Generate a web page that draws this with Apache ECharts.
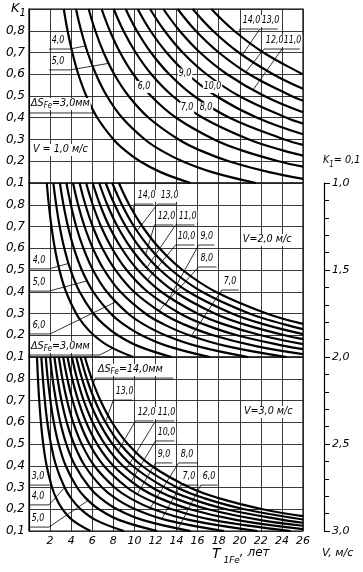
<!DOCTYPE html>
<html><head><meta charset="utf-8">
<script src="https://cdn.jsdelivr.net/npm/echarts/dist/echarts.min.js"></script>
<style>html,body{margin:0;padding:0;background:#fff}#c{width:363px;height:572px}</style>
</head><body><div id="c"></div>
<script>
const FONT = "'DejaVu Sans',sans-serif";
const COND = "'DejaVu Sans Condensed','DejaVu Sans',sans-serif";

// ΔS_Fe values (mm) of the curves, same order in every panel
const dS = [3, 4, 5, 6, 7, 8, 9, 10, 11, 12, 13, 14];
// K1 levels at which T (years) is read for each curve
const k1Levels = [0.9, 0.8, 0.7, 0.6, 0.5, 0.4, 0.3, 0.25, 0.2, 0.15, 0.1];

// Panel V = 1.0 m/s : T values per curve at k1Levels (null = beyond right edge)
const tV1 = [
  [3.30, 3.66, 4.11, 4.68, 5.44, 6.48, 8.02, 9.11, 10.53, 12.48, 15.32],
  [4.46, 4.95, 5.56, 6.35, 7.39, 8.84, 11.00, 12.53, 14.56, 17.37, 21.53],
  [5.66, 6.29, 7.08, 8.09, 9.45, 11.35, 14.20, 16.24, 18.96, 22.78, null],
  [6.89, 7.67, 8.64, 9.90, 11.58, 13.96, 17.57, 20.18, 23.69, null, null],
  [8.04, 8.96, 10.12, 11.61, 13.63, 16.49, 20.88, 24.08, null, null, null],
  [9.17, 10.23, 11.57, 13.31, 15.66, 19.03, 24.25, null, null, null, null],
  [10.31, 11.52, 13.05, 15.04, 17.75, 21.65, null, null, null, null, null],
  [11.49, 12.86, 14.58, 16.85, 19.94, 24.44, null, null, null, null, null],
  [12.75, 14.29, 16.23, 18.80, 22.33, null, null, null, null, null, null],
  [14.10, 15.82, 18.01, 20.90, 24.90, null, null, null, null, null, null],
  [15.53, 17.45, 19.90, 23.16, null, null, null, null, null, null, null],
  [17.30, 19.46, 22.24, 25.95, null, null, null, null, null, null, null]
];
// K1 where each curve meets the right edge (T = 26)
const edgeV1 = [null, null, 0.119, 0.175, 0.226, 0.275, 0.324, 0.373, 0.425, 0.478, 0.533, 0.599];

// Panel V = 2.0 m/s
const tV2 = [
  [1.69, 1.88, 2.13, 2.45, 2.89, 3.51, 4.47, 5.18, 6.15, 7.58, 9.88],
  [2.31, 2.58, 2.91, 3.35, 3.95, 4.80, 6.11, 7.08, 8.42, 10.37, 13.52],
  [2.93, 3.27, 3.70, 4.26, 5.01, 6.09, 7.75, 8.99, 10.68, 13.16, 17.15],
  [3.55, 3.97, 4.48, 5.16, 6.07, 7.38, 9.40, 10.89, 12.94, 15.95, 20.79],
  [4.18, 4.66, 5.27, 6.06, 7.13, 8.67, 11.04, 12.80, 15.21, 18.74, 24.43],
  [4.80, 5.35, 6.05, 6.96, 8.20, 9.96, 12.69, 14.70, 17.47, 21.53, null],
  [5.42, 6.05, 6.84, 7.87, 9.26, 11.25, 14.33, 16.61, 19.74, 24.32, null],
  [6.04, 6.74, 7.62, 8.77, 10.32, 12.54, 15.97, 18.51, 22.00, null, null],
  [6.66, 7.43, 8.40, 9.67, 11.38, 13.83, 17.62, 20.42, 24.27, null, null],
  [7.28, 8.13, 9.19, 10.57, 12.44, 15.12, 19.26, 22.32, null, null, null],
  [7.90, 8.82, 9.97, 11.48, 13.51, 16.41, 20.91, 24.23, null, null, null],
  [8.53, 9.51, 10.76, 12.38, 14.57, 17.70, 22.55, null, null, null, null]
];
const edgeV2 = [null, null, null, null, null, 0.113, 0.136, 0.159, 0.182, 0.205, 0.228, 0.252];

// Panel V = 3.0 m/s
const tV3 = [
  [0.76, 0.85, 0.97, 1.13, 1.35, 1.67, 2.19, 2.59, 3.18, 4.12, 5.83],
  [1.17, 1.32, 1.50, 1.74, 2.08, 2.57, 3.38, 4.00, 4.91, 6.35, 9.00],
  [1.59, 1.78, 2.03, 2.35, 2.81, 3.48, 4.56, 5.41, 6.64, 8.59, 12.17],
  [2.00, 2.24, 2.56, 2.97, 3.54, 4.38, 5.75, 6.81, 8.36, 10.82, 15.33],
  [2.41, 2.71, 3.08, 3.58, 4.27, 5.29, 6.94, 8.22, 10.09, 13.06, 18.50],
  [2.83, 3.17, 3.61, 4.19, 5.00, 6.19, 8.13, 9.63, 11.82, 15.29, 21.67],
  [3.24, 3.64, 4.14, 4.81, 5.73, 7.10, 9.31, 11.04, 13.55, 17.53, 24.83],
  [3.65, 4.10, 4.67, 5.42, 6.46, 8.00, 10.50, 12.44, 15.27, 19.76, null],
  [4.07, 4.56, 5.19, 6.03, 7.19, 8.90, 11.69, 13.85, 17.00, 22.00, null],
  [4.48, 5.03, 5.72, 6.65, 7.92, 9.81, 12.88, 15.26, 18.73, 24.24, null],
  [4.89, 5.49, 6.25, 7.26, 8.65, 10.71, 14.06, 16.67, 20.45, null, null],
  [5.30, 5.95, 6.78, 7.87, 9.38, 11.62, 15.25, 18.08, 22.18, null, null]
];
const edgeV3 = [null, null, null, null, null, null, null, 0.109, 0.124, 0.138, 0.153, 0.168];

// Axis ranges / ticks
const tMin = 0, tMax = 26, tStep = 2;
const kMin = 0.1, kMax = 0.9, kStep = 0.1;
const vMin = 1.0, vMax = 3.0, vStep = 0.5;

// Curve labels: [T, K1 (text bottom-left), text]; "a|b|c" = a + subscript b + c
const lblV1 = [
  [2.09, 0.725, '4,0'], [2.09, 0.629, '5,0'], [0.10, 0.436, 'ΔS|Fe|=3,0мм'],
  [0.28, 0.224, 'V = 1,0 м/с'], [10.25, 0.514, '6,0'], [14.14, 0.574, '9,0'],
  [16.5, 0.514, '10,0'], [14.33, 0.417, '7,0'], [16.13, 0.417, '8,0'],
  [20.2, 0.817, '14,0'], [22.0, 0.817, '13,0'], [22.4, 0.725, '12,0'], [24.1, 0.725, '11,0']
];
const leadV1 = [
  [[1.9, 0.716], [3.89, 0.716], [5.36, 0.73]],
  [[1.9, 0.62], [3.89, 0.62], [7.55, 0.65]],
  [[0, 0.422], [6.22, 0.422]],
  [[21.8, 0.808], [20.0, 0.808], [20.06, 0.776]],
  [[23.6, 0.808], [21.9, 0.808], [20.24, 0.688]],
  [[24.0, 0.716], [22.3, 0.716], [20.57, 0.61]],
  [[25.7, 0.716], [24.0, 0.716], [21.25, 0.527]]
];
const lblV2 = [
  [10.25, 0.813, '14,0'], [12.43, 0.813, '13,0'], [12.14, 0.716, '12,0'], [14.14, 0.716, '11,0'],
  [14.04, 0.624, '10,0'], [16.2, 0.624, '9,0'], [16.2, 0.523, '8,0'], [18.4, 0.417, '7,0'],
  [20.2, 0.61, 'V=2,0 м/с'], [0.28, 0.514, '4,0'], [0.28, 0.413, '5,0'], [0.28, 0.215, '6,0'],
  [0.1, 0.118, 'ΔS|Fe|=3,0мм']
];
const leadV2 = [
  [[11.8, 0.803], [10.0, 0.803], [9.89, 0.767]],
  [[14.0, 0.803], [12.2, 0.803], [10.24, 0.68]],
  [[13.7, 0.707], [11.9, 0.707], [11.07, 0.57]],
  [[15.7, 0.707], [13.9, 0.707], [11.18, 0.51]],
  [[15.7, 0.615], [13.9, 0.615], [11.23, 0.454]],
  [[17.6, 0.615], [16.1, 0.615], [12.95, 0.339]],
  [[17.8, 0.514], [16.1, 0.514], [12.3, 0.311]],
  [[19.9, 0.408], [18.3, 0.408], [15.4, 0.197]],
  [[0.1, 0.505], [1.9, 0.505], [3.75, 0.53]],
  [[0.1, 0.403], [1.9, 0.403], [5.5, 0.45]],
  [[0.1, 0.206], [2.0, 0.206], [8.2, 0.353]],
  [[0, 0.109], [6.7, 0.109], [7.95, 0.14]]
];
const lblV3 = [
  [6.45, 0.813, 'ΔS|Fe|=14,0мм'], [8.16, 0.711, '13,0'], [10.25, 0.615, '12,0'], [12.14, 0.615, '11,0'],
  [12.14, 0.523, '10,0'], [12.14, 0.422, '9,0'], [14.33, 0.422, '8,0'], [14.5, 0.321, '7,0'],
  [16.4, 0.321, '6,0'], [20.3, 0.62, 'V=3,0 м/с'], [0.19, 0.321, '3,0'], [0.19, 0.229, '4,0'],
  [0.19, 0.128, '5,0']
];
const leadV3 = [
  [[13.7, 0.803], [6.3, 0.803], [6.1, 0.78]],
  [[9.8, 0.702], [8.0, 0.702], [7.26, 0.60]],
  [[11.8, 0.606], [10.1, 0.606], [8.44, 0.468]],
  [[13.8, 0.606], [12.0, 0.606], [9.23, 0.385]],
  [[13.8, 0.514], [12.0, 0.514], [9.68, 0.327]],
  [[13.6, 0.413], [12.0, 0.413], [10.28, 0.27]],
  [[16.0, 0.413], [14.2, 0.413], [11.5, 0.206]],
  [[16.1, 0.311], [14.4, 0.311], [12.6, 0.156]],
  [[17.9, 0.311], [16.3, 0.311], [14.15, 0.11]],
  [[0.1, 0.311], [2.1, 0.311]],
  [[0.1, 0.22], [1.9, 0.22], [3.38, 0.30]],
  [[0.1, 0.118], [1.9, 0.118], [5.6, 0.24]]
];

// ---------- build ----------
const panels = [
  { t: tV1, e: edgeV1, l: lblV1, d: leadV1, top: 9 },
  { t: tV2, e: edgeV2, l: lblV2, d: leadV2, top: 183 },
  { t: tV3, e: edgeV3, l: lblV3, d: leadV3, top: 357 }
];
const fmtK = v => (Math.abs(v - kMax) < 1e-6 ? '' : v.toFixed(1).replace('.', ','));
const txt = s => {
  const p = s.split('|');
  return p.length === 3 ? `{a|${p[0]}}{s|${p[1]}}{a|${p[2]}}` : `{a|${s}}`;
};
const rich = {
  a: { fontFamily: COND, fontStyle: 'italic', fontSize: 11, fill: '#000', lineHeight: 12, verticalAlign: 'top' },
  s: { fontFamily: COND, fontStyle: 'italic', fontSize: 8, fill: '#000', lineHeight: 12, verticalAlign: 'bottom' }
};

const grid = [], xAxis = [], yAxis = [], series = [];
panels.forEach((p, i) => {
  grid.push({ left: 29, top: p.top, width: 274, height: 174, show: true, borderColor: '#000', borderWidth: 1.2 });
  xAxis.push({
    type: 'value', gridIndex: i, min: tMin, max: tMax, interval: tStep,
    axisLine: { show: false }, axisTick: { show: false },
    splitLine: { show: true, lineStyle: { color: '#222', width: 0.9 } },
    axisLabel: i === 2 ? {
      show: true, margin: 5, color: '#000', fontFamily: FONT, fontStyle: 'italic', fontSize: 11,
      formatter: v => (v === 0 ? '' : String(v))
    } : { show: false }
  });
  yAxis.push({
    type: 'value', gridIndex: i, min: kMin, max: kMax, interval: kStep,
    axisLine: { show: true, lineStyle: { color: '#000', width: 1.2 } }, axisTick: { show: false },
    splitLine: { show: true, lineStyle: { color: '#222', width: 0.9 } },
    axisLabel: { show: true, margin: 4, color: '#000', fontFamily: FONT, fontStyle: 'italic', fontSize: 12, formatter: fmtK }
  });
  p.t.forEach((row, j) => {
    const pts = [];
    row.forEach((T, k) => { if (T !== null) pts.push([T, k1Levels[k]]); });
    if (p.e[j] !== null) pts.push([tMax, p.e[j]]);
    series.push({
      type: 'line', name: 'dS ' + dS[j], xAxisIndex: i, yAxisIndex: i, data: pts,
      showSymbol: false, smooth: 0.4, clip: true, silent: true, z: 3,
      lineStyle: { color: '#000', width: 2.2 }
    });
  });
  series.push({
    type: 'lines', coordinateSystem: 'cartesian2d', xAxisIndex: i, yAxisIndex: i, polyline: true,
    silent: true, z: 4, lineStyle: { color: '#000', width: 0.8, opacity: 1 },
    data: p.d.map(c => ({ coords: c }))
  });
  const labels = p.l;
  series.push({
    type: 'custom', xAxisIndex: i, yAxisIndex: i, silent: true, z: 10, clip: false,
    data: labels.map(r => [r[0], r[1]]),
    renderItem: (params, api) => {
      const pt = api.coord([api.value(0), api.value(1)]);
      const s = labels[params.dataIndex][2];
      const numeric = /^[0-9,]+$/.test(s);
      return {
        type: 'text', x: pt[0], y: pt[1], scaleX: numeric ? 0.8 : 0.97,
        style: { text: txt(s), rich, align: 'left', verticalAlign: 'bottom', backgroundColor: '#fff', padding: [0, 1, 0, 1] }
      };
    }
  });
});

// velocity scale on the right
grid.push({ left: 324, top: 183, width: 20, height: 348, show: false });
xAxis.push({ type: 'value', gridIndex: 3, show: false, min: 0, max: 1 });
yAxis.push({
  type: 'value', gridIndex: 3, min: vMin, max: vMax, interval: vStep, inverse: true, position: 'left',
  axisLine: { show: true, lineStyle: { color: '#000', width: 1.2 } },
  axisTick: { show: true, inside: true, length: 6, lineStyle: { color: '#000', width: 1 } },
  minorTick: { show: true, splitNumber: 5, length: 5, lineStyle: { color: '#000', width: 1 } },
  splitLine: { show: false },
  axisLabel: { show: true, inside: true, margin: 8, color: '#000', fontFamily: FONT, fontStyle: 'italic', fontSize: 11,
    formatter: v => v.toFixed(1).replace('.', ',') }
});
series.push({ type: 'line', xAxisIndex: 3, yAxisIndex: 3, data: [], silent: true });

const sub = (fs, lh) => ({
  a: { fontFamily: FONT, fontStyle: 'italic', fontSize: fs, lineHeight: lh, verticalAlign: 'top', color: '#000' },
  b: { fontFamily: FONT, fontStyle: 'italic', fontSize: fs + 2, lineHeight: lh, verticalAlign: 'top', color: '#000' },
  s: { fontFamily: FONT, fontStyle: 'italic', fontSize: fs - 3, lineHeight: lh, verticalAlign: 'bottom', color: '#000' }
});
const option = {
  animation: false,
  backgroundColor: '#fff',
  grid, xAxis, yAxis, series,
  graphic: [
    { type: 'text', left: 11, top: 2, style: { text: '{a|K}{s|1}', rich: sub(13, 16) } },
    { type: 'text', x: 323, y: 155, scaleX: 0.88, style: { text: '{a|K}{s|1}{a|= 0,1}', rich: sub(11, 14) } },
    { type: 'text', left: 322, top: 548, style: { text: '{a|V, м/с}', rich: sub(11, 14) } },
    { type: 'text', left: 212, top: 547, style: { text: '{b|T}{s| 1Fe}{a|, лет}', rich: sub(12, 18) } }
  ]
};
const chart = echarts.init(document.getElementById('c'), null, { renderer: 'canvas' });
chart.setOption(option);
</script></body></html>
